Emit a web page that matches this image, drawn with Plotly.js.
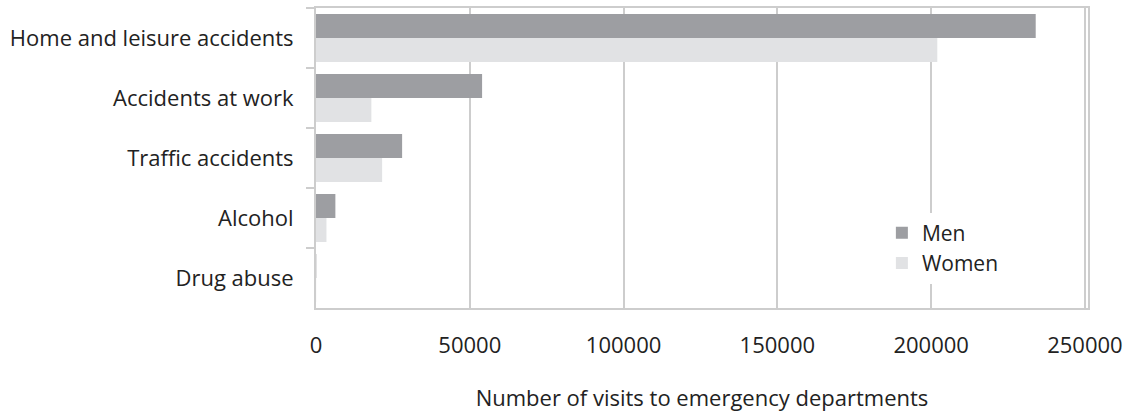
<!DOCTYPE html>
<html>
<head>
<meta charset="utf-8">
<script src="https://cdn.plot.ly/plotly-3.0.1.min.js"></script>
<style>html,body{margin:0;padding:0;background:#fff;}#chart{width:1145px;height:417px;}</style>
</head>
<body>
<div id="chart"></div>
<script>
const categories = ["Home and leisure accidents", "Accidents at work", "Traffic accidents", "Alcohol", "Drug abuse"];
const men = [234000, 54000, 28000, 6300, 100];
const women = [202000, 18000, 21500, 3400, 50];
const seriesNames = ["Men", "Women"];
const xTickVals = [0, 50000, 100000, 150000, 200000, 250000];
const xTickText = ["0", "50000", "100000", "150000", "200000", "250000"];
const xTitle = "Number of visits to emergency departments";

const FONT = "'Open Sans', Lato, sans-serif";
const data = [
  {type: "bar", orientation: "h", name: seriesNames[0], y: categories, x: men,
   marker: {color: "#9d9ea2"}, hoverinfo: "x+y"},
  {type: "bar", orientation: "h", name: seriesNames[1], y: categories, x: women,
   marker: {color: "#e1e2e4"}, hoverinfo: "x+y"}
];
const layout = {
  width: 1145, height: 417,
  margin: {l: 316, r: 57, t: 8, b: 109, pad: 0},
  paper_bgcolor: "#ffffff", plot_bgcolor: "#ffffff",
  font: {family: FONT, size: 22, color: "#222222"},
  barmode: "group", bargap: 0.2, bargroupgap: 0,
  showlegend: true,
  legend: {x: 0.733, y: 0.318, xanchor: "left", yanchor: "top",
           bgcolor: "#ffffff", borderwidth: 0, traceorder: "normal", tracegroupgap: 0,
           font: {family: FONT, size: 21, color: "#222222"}},
  xaxis: {range: [0, 251000], tickvals: xTickVals, ticktext: xTickText,
          showgrid: true, gridcolor: "#cdcdcd", gridwidth: 2,
          zeroline: false, showline: true, linecolor: "#cdcdcd", linewidth: 2, mirror: true,
          ticks: "", ticklabelstandoff: 17,
          tickfont: {family: FONT, size: 22, color: "#222222"},
          title: {text: xTitle, standoff: 32, font: {family: FONT, size: 22, color: "#222222"}}},
  yaxis: {type: "category", autorange: "reversed", categoryorder: "array", categoryarray: categories,
          showgrid: false, zeroline: false, showline: true, linecolor: "#cdcdcd", linewidth: 2, mirror: true,
          ticks: "outside", tickson: "boundaries", ticklen: 8, tickwidth: 2, tickcolor: "#cdcdcd",
          ticklabelstandoff: 16,
          tickfont: {family: FONT, size: 22, color: "#222222"}}
};
Plotly.newPlot("chart", data, layout, {displayModeBar: false, staticPlot: true});
</script>
</body>
</html>
